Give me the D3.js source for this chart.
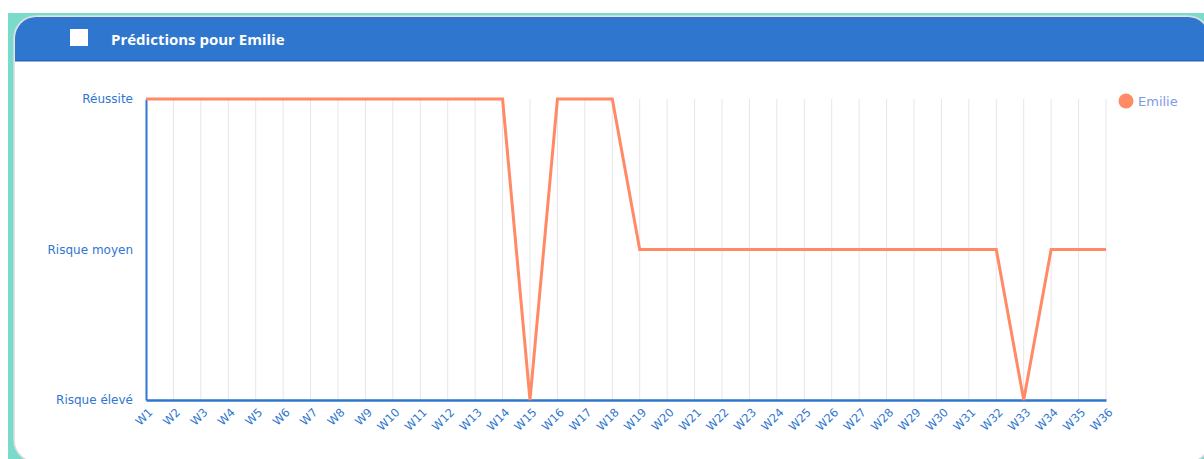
<!DOCTYPE html>
<html>
<head>
<meta charset="utf-8">
<script src="https://cdn.jsdelivr.net/npm/d3@7"></script>
<style>
  html, body { margin: 0; padding: 0; background: #ffffff; }
  svg { display: block; }
</style>
</head>
<body>
<svg id="chart" width="1204" height="459"></svg>
<script>
// Weekly predictions for one student
const weeks = Array.from({length: 36}, (_, i) => "W" + (i + 1));
const levels = ["Risque élevé", "Risque moyen", "Réussite"];
const seriesName = "Emilie";
const emilieValues = [
  "Réussite", "Réussite", "Réussite", "Réussite", "Réussite", "Réussite", "Réussite",
  "Réussite", "Réussite", "Réussite", "Réussite", "Réussite", "Réussite", "Réussite",
  "Risque élevé",
  "Réussite", "Réussite", "Réussite",
  "Risque moyen", "Risque moyen", "Risque moyen", "Risque moyen", "Risque moyen",
  "Risque moyen", "Risque moyen", "Risque moyen", "Risque moyen", "Risque moyen",
  "Risque moyen", "Risque moyen", "Risque moyen", "Risque moyen",
  "Risque élevé",
  "Risque moyen", "Risque moyen", "Risque moyen"
];
const title = "Prédictions pour Emilie";

const svg = d3.select("#chart");
const blue = "#2f76cf";
const lineColor = "#ff8a65";
const titleFont = "'Open Sans', 'Noto Sans', sans-serif";
const labelFont = "'DejaVu Sans', Verdana, sans-serif";

// Page background and card
svg.append("rect").attr("x", 8).attr("y", 13).attr("width", 1200).attr("height", 460).attr("fill", "#79dccb");
svg.append("rect").attr("x", 14).attr("y", 16).attr("width", 1196).attr("height", 446)
  .attr("rx", 22).attr("ry", 22).attr("fill", "#ffffff").attr("stroke", "#dcdcdc").attr("stroke-width", 1.5);

// Header band with rounded top corners
const clip = svg.append("defs").append("clipPath").attr("id", "cardClip");
clip.append("rect").attr("x", 15).attr("y", 17).attr("width", 1194).attr("height", 444).attr("rx", 21).attr("ry", 21);
const header = svg.append("g").attr("clip-path", "url(#cardClip)");
header.append("rect").attr("x", 14).attr("y", 16).attr("width", 1196).attr("height", 45).attr("fill", blue);
header.append("rect").attr("x", 14).attr("y", 60).attr("width", 1196).attr("height", 1.5).attr("fill", "#2a66b5");
svg.append("rect").attr("x", 70).attr("y", 29).attr("width", 18).attr("height", 17).attr("fill", "#ffffff");
svg.append("text").attr("x", 111).attr("y", 44.5).text(title)
  .attr("fill", "#ffffff").attr("font-family", titleFont).attr("font-weight", "bold").attr("font-size", 15);

// Scales
const x = d3.scalePoint().domain(weeks).range([146, 1106]);
const y = d3.scalePoint().domain(levels).range([400, 99]);

// Vertical gridlines
svg.append("g").selectAll("line").data(weeks.slice(1)).join("line")
  .attr("x1", d => x(d)).attr("x2", d => x(d))
  .attr("y1", y("Réussite")).attr("y2", y("Risque élevé"))
  .attr("stroke", "#e6e6e6").attr("stroke-width", 1);

// Y axis
const yAxis = svg.append("g").attr("transform", `translate(${x(weeks[0])},0)`)
  .call(d3.axisLeft(y).tickSize(0).tickPadding(13));
yAxis.select(".domain").attr("stroke", blue).attr("stroke-width", 2);
yAxis.selectAll("text").attr("fill", blue).attr("font-family", labelFont).attr("font-size", 12);

// X axis
const xAxis = svg.append("g").attr("transform", `translate(0,${y("Risque élevé")})`)
  .call(d3.axisBottom(x).tickSize(0));
xAxis.select(".domain").attr("stroke", blue).attr("stroke-width", 2.5);
xAxis.selectAll("text")
  .attr("fill", blue).attr("font-family", labelFont).attr("font-size", 11.5)
  .attr("text-anchor", "end").attr("dy", null).attr("y", 0)
  .attr("transform", "translate(7,13) rotate(-45)");

// Series line
const line = d3.line().x((d, i) => x(weeks[i])).y(d => y(d));
svg.append("path").datum(emilieValues).attr("d", line)
  .attr("fill", "none").attr("stroke", lineColor).attr("stroke-width", 3).attr("stroke-linejoin", "miter");

// Legend
svg.append("circle").attr("cx", 1126).attr("cy", 101).attr("r", 7.5).attr("fill", lineColor);
svg.append("text").attr("x", 1138).attr("y", 105.5).text(seriesName)
  .attr("fill", "#7d9be3").attr("font-family", labelFont).attr("font-size", 13);
</script>
</body>
</html>
